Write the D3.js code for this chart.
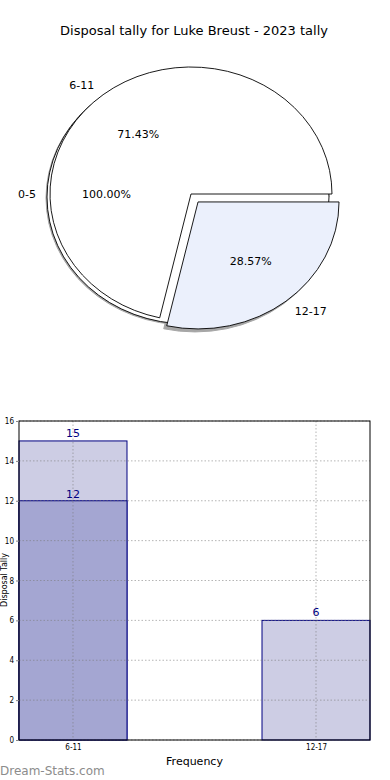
<!DOCTYPE html>
<html>
<head>
<meta charset="utf-8">
<script src="https://cdn.jsdelivr.net/npm/d3@7"></script>
<style>
  body { margin: 0; background: #fff; }
  svg { display: block; font-family: "DejaVu Sans", sans-serif; }
</style>
</head>
<body>
<script>
// pie data (labels as shown on the chart)
const pieLabels = ["0-5", "6-11", "12-17"];
const piePct = [100.00, 71.43, 28.57];
const pieExplode = [0, 0, 0.08];

// bar data
const barCats = ["6-11", "12-17"];
const barLight = [15, 6];
const barDark = [12, null];
const yTicks = [0, 2, 4, 6, 8, 10, 12, 14, 16];

const W = 390, H = 780;
const svg = d3.select("body").append("svg")
    .attr("width", W)
    .attr("height", H);

svg.append("text")
    .attr("x", 194).attr("y", 35)
    .attr("text-anchor", "middle")
    .attr("font-size", "13px")
    .attr("fill", "#000")
    .text("Disposal tally for Luke Breust - 2023 tally");

// ---------- pie ----------
let cx = 191, cy = 194, rx = 141, ry = 127;
let arc = d3.arc().innerRadius(0).outerRadius(1);

// d3 angles: clockwise from north. matplotlib starts east going ccw
let pie = d3.pie().sort(null)
    .startAngle(Math.PI / 2)
    .endAngle(Math.PI / 2 - 2 * Math.PI);
let slices = pie(piePct.slice(1));
let full = { startAngle: Math.PI / 2, endAngle: Math.PI / 2 - 2 * Math.PI * piePct[0] / 100 };

function offset(d, e) {
    let mid = (d.startAngle + d.endAngle) / 2;
    return [e * rx * Math.sin(mid), -e * ry * Math.cos(mid)];
}

let pieG = svg.append("g");

function wedge(d, dx, dy, fill, stroke, sw) {
    pieG.append("path")
        .attr("transform", `translate(${cx + dx},${cy + dy}) scale(${rx},${ry})`)
        .attr("d", arc(d))
        .attr("fill", fill)
        .attr("stroke", stroke)
        .attr("stroke-width", sw)
        .attr("vector-effect", "non-scaling-stroke");
}

// shadows
wedge(full, -4, 4, "#a6a6a6", "#a6a6a6", 1);
slices.forEach((d, i) => {
    let o = offset(d, pieExplode[i + 1]);
    wedge(d, o[0] - 3, o[1] + 3, "#a6a6a6", "#a6a6a6", 1);
});
// wedges
wedge(full, -3, 3, "#fff", "#000", 0.9);
let pieFills = ["#ffffff", "#ebf0fc"];
slices.forEach((d, i) => {
    let o = offset(d, pieExplode[i + 1]);
    wedge(d, o[0], o[1], pieFills[i], "#000", 0.9);
});

// labels
function pieText(d, e, label, pct) {
    let mid = (d.startAngle + d.endAngle) / 2;
    let o = offset(d, e);
    let sx = Math.sin(mid), sy = -Math.cos(mid);
    let lx = cx + o[0] + 1.1 * rx * sx, ly = cy + o[1] + 1.1 * ry * sy;
    svg.append("text")
        .attr("x", lx).attr("y", ly)
        .attr("dy", "0.35em")
        .attr("text-anchor", sx < 0 ? "end" : "start")
        .attr("font-size", "11px")
        .text(label);
    svg.append("text")
        .attr("x", cx + o[0] + 0.6 * rx * sx).attr("y", cy + o[1] + 0.6 * ry * sy)
        .attr("dy", "0.35em")
        .attr("text-anchor", "middle")
        .attr("font-size", "11px")
        .text(pct.toFixed(2) + "%");
}
pieText(full, 0, pieLabels[0], piePct[0]);
slices.forEach((d, i) => pieText(d, pieExplode[i + 1], pieLabels[i + 1], piePct[i + 1]));

// ---------- bars ----------
let pLeft = 19, pRight = 370, pTop = 421, pBottom = 740;
let bw = 0.4444;
let x = d3.scaleLinear().domain([-bw / 2, 1 + bw / 2]).range([pLeft, pRight]);
let y = d3.scaleLinear().domain([0, 16]).range([pBottom, pTop]);

let barG = svg.append("g");
barG.selectAll(".light")
    .data(barLight)
    .enter()
    .append("rect")
    .attr("x", (d, i) => x(i - bw / 2))
    .attr("y", d => y(d))
    .attr("width", x(bw) - x(0))
    .attr("height", d => y(0) - y(d))
    .attr("fill", "#cdcde4")
    .attr("stroke", "#000080")
    .attr("stroke-width", 1);

barG.selectAll(".dark")
    .data(barDark.map((v, i) => ({ v, i })).filter(d => d.v != null))
    .enter()
    .append("rect")
    .attr("x", d => x(d.i - bw / 2))
    .attr("y", d => y(d.v))
    .attr("width", x(bw) - x(0))
    .attr("height", d => y(0) - y(d.v))
    .attr("fill", "#a4a6d2")
    .attr("stroke", "#000080")
    .attr("stroke-width", 1);

// grid
svg.append("g").selectAll("line")
    .data(yTicks)
    .enter()
    .append("line")
    .attr("x1", pLeft).attr("x2", pRight)
    .attr("y1", d => y(d)).attr("y2", d => y(d))
    .attr("stroke", "rgba(120,120,120,0.55)")
    .attr("stroke-dasharray", "1.5,2");
svg.append("g").selectAll("line")
    .data(barCats)
    .enter()
    .append("line")
    .attr("x1", (d, i) => x(i)).attr("x2", (d, i) => x(i))
    .attr("y1", pTop).attr("y2", pBottom)
    .attr("stroke", "rgba(120,120,120,0.55)")
    .attr("stroke-dasharray", "1.5,2");

// frame
svg.append("rect")
    .attr("x", pLeft).attr("y", pTop)
    .attr("width", pRight - pLeft).attr("height", pBottom - pTop)
    .attr("fill", "none")
    .attr("stroke", "#000")
    .attr("stroke-width", 1);

// axes
let yAxis = svg.append("g")
    .attr("transform", `translate(${pLeft},0)`)
    .call(d3.axisLeft(y).tickValues(yTicks).tickSize(3).tickPadding(2));
yAxis.select(".domain").remove();
yAxis.selectAll("text").attr("font-size", "8px").attr("font-family", "DejaVu Sans Condensed, DejaVu Sans");
yAxis.selectAll("line").attr("stroke", "#888");

let xAxis = svg.append("g")
    .attr("transform", `translate(0,${pBottom})`)
    .call(d3.axisBottom(x).tickValues([0, 1]).tickFormat((d) => barCats[d]).tickSize(0).tickPadding(4));
xAxis.select(".domain").remove();
xAxis.selectAll("text").attr("font-size", "8px").attr("font-family", "DejaVu Sans Condensed, DejaVu Sans");

// value labels
let valG = svg.append("g")
    .attr("font-size", "11px")
    .attr("fill", "#000080")
    .attr("text-anchor", "middle");
barLight.forEach((v, i) => {
    valG.append("text").attr("x", x(i)).attr("y", y(v) - 4).text(v);
});
barDark.forEach((v, i) => {
    if (v != null) valG.append("text").attr("x", x(i)).attr("y", y(v) - 3).text(v);
});

svg.append("text")
    .attr("x", (pLeft + pRight) / 2).attr("y", 765)
    .attr("text-anchor", "middle")
    .attr("font-size", "11px")
    .text("Frequency");

svg.append("text")
    .attr("transform", "translate(7,580) rotate(-90)")
    .attr("text-anchor", "middle")
    .attr("font-size", "8px")
    .text("Disposal Tally");

svg.append("text")
    .attr("x", 0).attr("y", 775)
    .attr("font-size", "12px")
    .attr("fill", "#8c8c8c")
    .text("Dream-Stats.com");
</script>
</body>
</html>
